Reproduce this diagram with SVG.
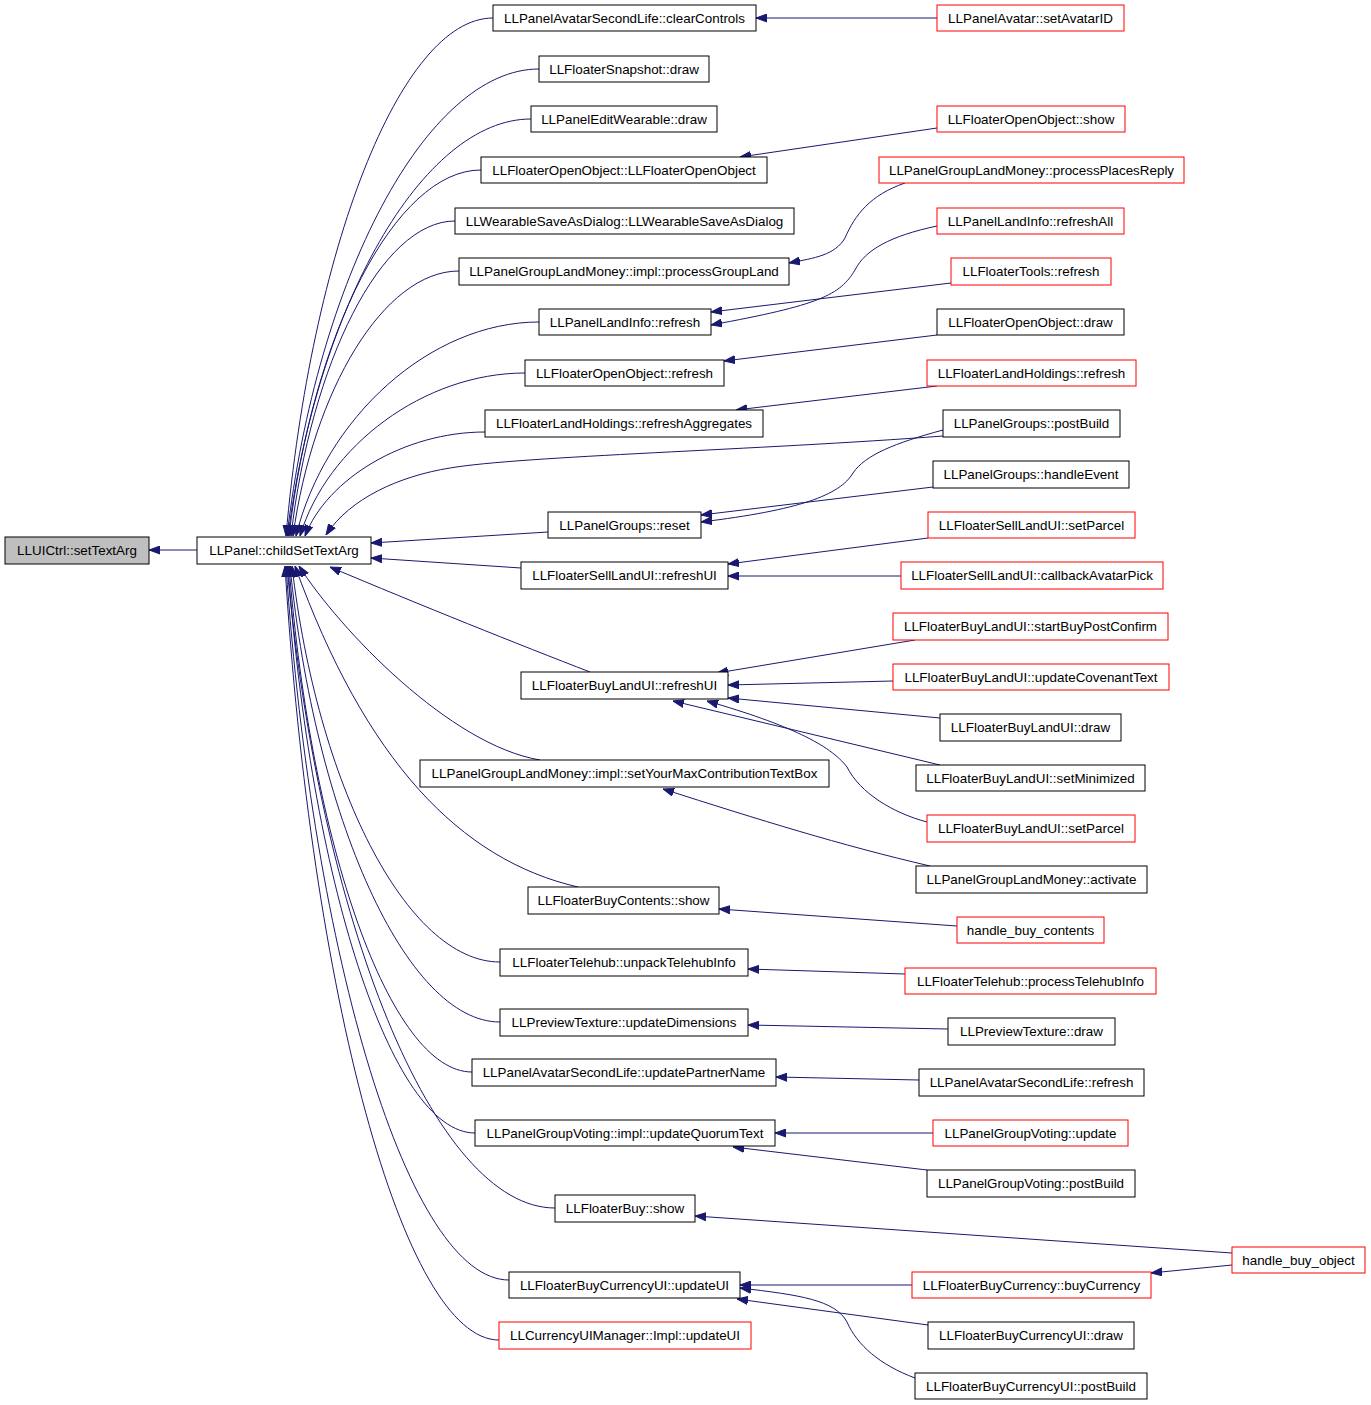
<svg xmlns="http://www.w3.org/2000/svg" width="1371" height="1405" viewBox="0 0 1371 1405">
<style>
rect{fill:#fff;stroke:#000;stroke-width:1}
.r rect{stroke:#f00}
.g rect{fill:#bfbfbf}
text{font-family:"Liberation Sans",Arial,sans-serif;font-size:13.4px;text-anchor:middle;fill:#000}
#edges path{fill:none;stroke:#191970;stroke-width:1;marker-end:url(#a)}
</style>
<defs>
<marker id="a" markerWidth="11" markerHeight="9" refX="11" refY="4.5" orient="auto" markerUnits="userSpaceOnUse">
<path d="M0,0.5 L11,4.5 L0,8.5 z" fill="#191970" stroke="#191970" stroke-width="1"/>
</marker>
</defs>
<rect x="0" y="0" width="1371" height="1405" style="fill:#fff;stroke:none"/>
<g id="edges">
<path d="M197,550 L149,550"/>
<path d="M493,18 C400,18 311,251 286,536"/>
<path d="M539,69 C426,69 317,279 287,536"/>
<path d="M531,119 C422,119 317,307 288,536"/>
<path d="M481,170 C395,170 312,335 289,536"/>
<path d="M455,221 C381,221 311,363 291,536"/>
<path d="M459,271 C384,271 313,390 293,536"/>
<path d="M539,322 C430,322 325,418 296,536"/>
<path d="M525,373 C424,373 327,446 300,536"/>
<path d="M485,432 C404,432 327,479 305,536"/>
<path d="M943,436 C760,450 520,456 450,468 C400,476 350,498 326,535"/>
<path d="M548,532 L371,543"/>
<path d="M521,568 L371,558"/>
<path d="M590,672 C520,645 420,605 330,567"/>
<path d="M540,760 C450,745 340,630 299,566"/>
<path d="M578,887 C460,860 365,760 295,566"/>
<path d="M500,962 C406,962 317,783 292,566"/>
<path d="M500,1022 C406,1022 315,817 290,566"/>
<path d="M472,1072 C390,1072 311,845 289,566"/>
<path d="M475,1133 C391,1133 310,878 288,566"/>
<path d="M555,1208 C434,1208 319,920 287,566"/>
<path d="M509,1280 C409,1280 313,959 286,566"/>
<path d="M499,1340 C403,1340 311,992 285,566"/>
<path d="M937,18 L756,18"/>
<path d="M937,128 L740,157"/>
<path d="M905,183 C870,195 855,215 845,238 C835,255 815,258 789,263"/>
<path d="M937,226 C890,236 865,250 855,270 C840,295 820,305 711,325"/>
<path d="M951,283 L711,312"/>
<path d="M937,335 L724,361"/>
<path d="M937,386 L736,410"/>
<path d="M943,430 C895,443 865,455 853,473 C840,495 800,510 701,522"/>
<path d="M933,487 L701,515"/>
<path d="M928,538 L728,564"/>
<path d="M901,576 L728,576"/>
<path d="M915,640 L717,673"/>
<path d="M893,681 L728,685"/>
<path d="M940,718 L728,698"/>
<path d="M940,765 L673,701"/>
<path d="M927,822 C893,813 860,793 847,767 C830,745 790,725 707,701"/>
<path d="M930,866 C840,845 760,820 663,789"/>
<path d="M957,926 L719,909"/>
<path d="M905,974 L748,969"/>
<path d="M948,1029 L748,1025"/>
<path d="M919,1080 L776,1077"/>
<path d="M933,1133 L775,1133"/>
<path d="M927,1170 L733,1147"/>
<path d="M1232,1253 L695,1216"/>
<path d="M1232,1265 L1151,1273"/>
<path d="M912,1285 L740,1285"/>
<path d="M928,1325 L737,1299"/>
<path d="M915,1378 C880,1365 857,1345 847,1322 C835,1300 800,1295 740,1288"/>
</g>
<g id="n0" class="g"><rect x="5" y="537" width="144" height="27"/><text x="77" y="555">LLUICtrl::setTextArg</text></g>
<g id="n1"><rect x="197" y="537" width="174" height="27"/><text x="284" y="555">LLPanel::childSetTextArg</text></g>
<g id="m1"><rect x="493" y="5" width="263" height="26"/><text x="624.5" y="22.5">LLPanelAvatarSecondLife::clearControls</text></g>
<g id="m2"><rect x="539" y="56" width="170" height="26"/><text x="624" y="73.5">LLFloaterSnapshot::draw</text></g>
<g id="m3"><rect x="531" y="106" width="186" height="26"/><text x="624" y="123.5">LLPanelEditWearable::draw</text></g>
<g id="m4"><rect x="481" y="157" width="286" height="26"/><text x="624" y="174.5">LLFloaterOpenObject::LLFloaterOpenObject</text></g>
<g id="m5"><rect x="455" y="208" width="339" height="26"/><text x="624.5" y="225.5">LLWearableSaveAsDialog::LLWearableSaveAsDialog</text></g>
<g id="m6"><rect x="459" y="258" width="330" height="27"/><text x="624" y="276">LLPanelGroupLandMoney::impl::processGroupLand</text></g>
<g id="m7"><rect x="539" y="309" width="172" height="26"/><text x="625" y="326.5">LLPanelLandInfo::refresh</text></g>
<g id="m8"><rect x="525" y="360" width="199" height="26"/><text x="624.5" y="377.5">LLFloaterOpenObject::refresh</text></g>
<g id="m9"><rect x="485" y="410" width="278" height="27"/><text x="624" y="428">LLFloaterLandHoldings::refreshAggregates</text></g>
<g id="m10"><rect x="548" y="512" width="153" height="26"/><text x="624.5" y="529.5">LLPanelGroups::reset</text></g>
<g id="m11"><rect x="521" y="562" width="207" height="27"/><text x="624.5" y="580">LLFloaterSellLandUI::refreshUI</text></g>
<g id="m12"><rect x="521" y="672" width="207" height="27"/><text x="624.5" y="690">LLFloaterBuyLandUI::refreshUI</text></g>
<g id="m13"><rect x="420" y="760" width="409" height="27"/><text x="624.5" y="778">LLPanelGroupLandMoney::impl::setYourMaxContributionTextBox</text></g>
<g id="m14"><rect x="528" y="887" width="191" height="27"/><text x="623.5" y="905">LLFloaterBuyContents::show</text></g>
<g id="m15"><rect x="500" y="949" width="248" height="27"/><text x="624" y="967">LLFloaterTelehub::unpackTelehubInfo</text></g>
<g id="m16"><rect x="500" y="1009" width="248" height="27"/><text x="624" y="1027">LLPreviewTexture::updateDimensions</text></g>
<g id="m17"><rect x="472" y="1059" width="304" height="27"/><text x="624" y="1077">LLPanelAvatarSecondLife::updatePartnerName</text></g>
<g id="m18"><rect x="475" y="1120" width="300" height="26"/><text x="625" y="1137.5">LLPanelGroupVoting::impl::updateQuorumText</text></g>
<g id="m19"><rect x="555" y="1195" width="140" height="27"/><text x="625" y="1213">LLFloaterBuy::show</text></g>
<g id="m20"><rect x="509" y="1272" width="231" height="26"/><text x="624.5" y="1289.5">LLFloaterBuyCurrencyUI::updateUI</text></g>
<g id="m21" class="r"><rect x="499" y="1322" width="252" height="27"/><text x="625" y="1340">LLCurrencyUIManager::Impl::updateUI</text></g>
<g id="r1" class="r"><rect x="937" y="5" width="187" height="26"/><text x="1030.5" y="22.5">LLPanelAvatar::setAvatarID</text></g>
<g id="r2" class="r"><rect x="937" y="106" width="188" height="26"/><text x="1031" y="123.5">LLFloaterOpenObject::show</text></g>
<g id="r3" class="r"><rect x="879" y="157" width="305" height="26"/><text x="1031.5" y="174.5">LLPanelGroupLandMoney::processPlacesReply</text></g>
<g id="r4" class="r"><rect x="937" y="208" width="187" height="26"/><text x="1030.5" y="225.5">LLPanelLandInfo::refreshAll</text></g>
<g id="r5" class="r"><rect x="951" y="258" width="160" height="27"/><text x="1031" y="276">LLFloaterTools::refresh</text></g>
<g id="r6"><rect x="937" y="309" width="187" height="26"/><text x="1030.5" y="326.5">LLFloaterOpenObject::draw</text></g>
<g id="r7" class="r"><rect x="927" y="360" width="209" height="26"/><text x="1031.5" y="377.5">LLFloaterLandHoldings::refresh</text></g>
<g id="r8"><rect x="943" y="410" width="177" height="27"/><text x="1031.5" y="428">LLPanelGroups::postBuild</text></g>
<g id="r9"><rect x="933" y="461" width="196" height="27"/><text x="1031" y="479">LLPanelGroups::handleEvent</text></g>
<g id="r10" class="r"><rect x="928" y="512" width="207" height="26"/><text x="1031.5" y="529.5">LLFloaterSellLandUI::setParcel</text></g>
<g id="r11" class="r"><rect x="901" y="562" width="262" height="27"/><text x="1032" y="580">LLFloaterSellLandUI::callbackAvatarPick</text></g>
<g id="r12" class="r"><rect x="893" y="613" width="275" height="27"/><text x="1030.5" y="631">LLFloaterBuyLandUI::startBuyPostConfirm</text></g>
<g id="r13" class="r"><rect x="893" y="664" width="276" height="26"/><text x="1031" y="681.5">LLFloaterBuyLandUI::updateCovenantText</text></g>
<g id="r14"><rect x="940" y="714" width="181" height="27"/><text x="1030.5" y="732">LLFloaterBuyLandUI::draw</text></g>
<g id="r15"><rect x="916" y="765" width="229" height="26"/><text x="1030.5" y="782.5">LLFloaterBuyLandUI::setMinimized</text></g>
<g id="r16" class="r"><rect x="927" y="815" width="208" height="27"/><text x="1031" y="833">LLFloaterBuyLandUI::setParcel</text></g>
<g id="r17"><rect x="916" y="866" width="231" height="27"/><text x="1031.5" y="884">LLPanelGroupLandMoney::activate</text></g>
<g id="r18" class="r"><rect x="957" y="917" width="147" height="26"/><text x="1030.5" y="934.5">handle_buy_contents</text></g>
<g id="r19" class="r"><rect x="905" y="968" width="251" height="26"/><text x="1030.5" y="985.5">LLFloaterTelehub::processTelehubInfo</text></g>
<g id="r20"><rect x="948" y="1018" width="167" height="27"/><text x="1031.5" y="1036">LLPreviewTexture::draw</text></g>
<g id="r21"><rect x="919" y="1069" width="225" height="27"/><text x="1031.5" y="1087">LLPanelAvatarSecondLife::refresh</text></g>
<g id="r22" class="r"><rect x="933" y="1120" width="195" height="26"/><text x="1030.5" y="1137.5">LLPanelGroupVoting::update</text></g>
<g id="r23"><rect x="927" y="1170" width="208" height="27"/><text x="1031" y="1188">LLPanelGroupVoting::postBuild</text></g>
<g id="r24" class="r"><rect x="1232" y="1247" width="133" height="26"/><text x="1298.5" y="1264.5">handle_buy_object</text></g>
<g id="r25" class="r"><rect x="912" y="1272" width="239" height="26"/><text x="1031.5" y="1289.5">LLFloaterBuyCurrency::buyCurrency</text></g>
<g id="r26"><rect x="928" y="1322" width="206" height="27"/><text x="1031" y="1340">LLFloaterBuyCurrencyUI::draw</text></g>
<g id="r27"><rect x="915" y="1373" width="232" height="26"/><text x="1031" y="1390.5">LLFloaterBuyCurrencyUI::postBuild</text></g>
</svg>
